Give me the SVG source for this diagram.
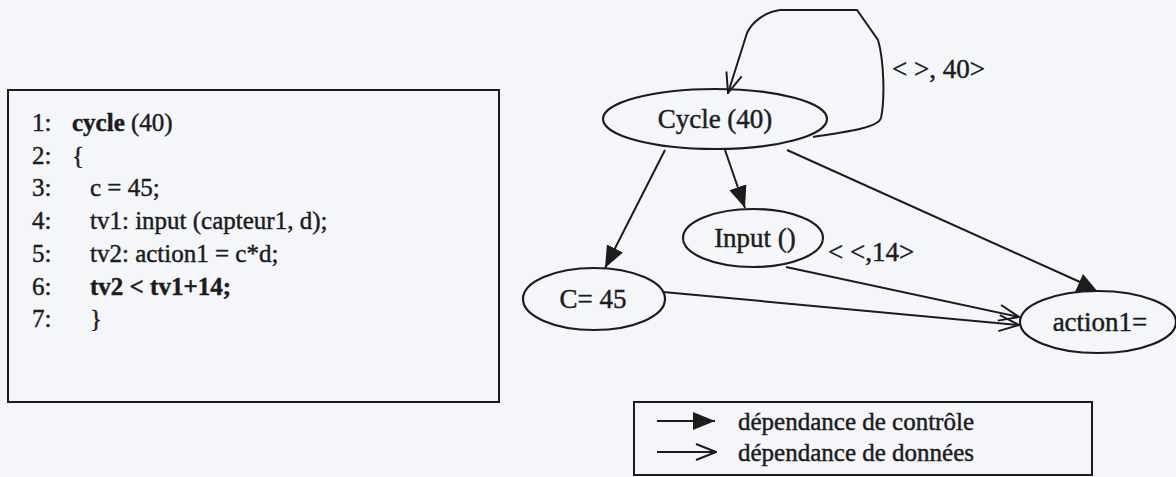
<svg xmlns="http://www.w3.org/2000/svg" width="1176" height="477" viewBox="0 0 1176 477">
  <style>
    .ink { stroke: #1c1c1c; stroke-width: 2; fill: none; }
    .node { stroke: #1c1c1c; stroke-width: 2.2; fill: none; }
    .serif { font-family: "Liberation Serif", "Times New Roman", serif; fill: #1c1c1c; stroke: #1c1c1c; stroke-width: 0.45; }
    .code { font-size: 25px; }
    .lbl { font-size: 27px; }
    .leg { font-size: 25px; }
    .b { font-weight: bold; }
  </style>
  <defs>
    <!-- control dependency: filled head -->
    <marker id="solid" viewBox="0 0 22 18" refX="22" refY="9" markerWidth="22" markerHeight="18" orient="auto" markerUnits="userSpaceOnUse">
      <path d="M0,0 L22,9 L0,18 Z" fill="#1c1c1c"/>
    </marker>
    <!-- data dependency: open head -->
    <marker id="open" viewBox="0 0 22 18" refX="21" refY="9" markerWidth="22" markerHeight="18" orient="auto" markerUnits="userSpaceOnUse">
      <path d="M1,1 L21,9 L1,17" fill="none" stroke="#1c1c1c" stroke-width="2"/>
    </marker>
  </defs>

  <rect width="1176" height="477" fill="#f5f6fa"/>

  <!-- source listing -->
  <g id="code">
    <rect x="8" y="90" width="491" height="312" class="ink"/>
    <g class="serif code">
      <text x="32" y="131">1:</text>
      <text x="72" y="131"><tspan class="b">cycle</tspan> (40)</text>
      <text x="32" y="164">2:</text>
      <text x="72" y="164">{</text>
      <text x="32" y="196">3:</text>
      <text x="90" y="196">c = 45;</text>
      <text x="32" y="229">4:</text>
      <text x="90" y="229">tv1: input (capteur1, d);</text>
      <text x="32" y="262">5:</text>
      <text x="90" y="262">tv2: action1 = c*d;</text>
      <text x="32" y="295">6:</text>
      <text x="90" y="295" class="b">tv2 &lt; tv1+14;</text>
      <text x="32" y="327">7:</text>
      <text x="90" y="327">}</text>
    </g>
  </g>

  <!-- nodes -->
  <g id="n-cycle">
    <ellipse cx="715" cy="119" rx="112" ry="30" class="node"/>
    <text x="715" y="128" text-anchor="middle" class="serif lbl">Cycle (40)</text>
  </g>
  <g id="n-input">
    <ellipse cx="753" cy="238" rx="70" ry="29" class="node"/>
    <text x="755" y="247" text-anchor="middle" class="serif lbl">Input ()</text>
  </g>
  <g id="n-c45">
    <ellipse cx="594" cy="299" rx="71" ry="31" class="node"/>
    <text x="593" y="308" text-anchor="middle" class="serif lbl">C= 45</text>
  </g>
  <g id="n-action1">
    <ellipse cx="1098" cy="322" rx="78" ry="31" class="node"/>
    <text x="1100" y="331" text-anchor="middle" class="serif lbl">action1=</text>
  </g>

  <!-- connectors -->
  <g id="edges">
    <path d="M813,137 C845,132 878,128 881,118 C885,100 884,60 878,40 L857,10 L780,10 C765,12 752,22 747,33 L728,93" class="ink" marker-end="url(#open)"/>
    <path d="M725,150 L745,208" class="ink" marker-end="url(#solid)"/>
    <path d="M665,150 L605,268" class="ink" marker-end="url(#solid)"/>
    <path d="M787,150 L1080,282" class="ink"/>
    <polygon points="1083,274 1075,292 1098,292" fill="#1c1c1c"/>
    <path d="M786,267 L1019,317" class="ink" marker-end="url(#open)"/>
    <path d="M663,292 L1019,325" class="ink" marker-end="url(#open)"/>
    <text x="892" y="78" class="serif lbl">&lt; &gt;, 40&gt;</text>
    <text x="828" y="261" class="serif lbl">&lt; &lt;,14&gt;</text>
  </g>

  <!-- legend -->
  <g id="legend">
    <rect x="634" y="402" width="458" height="73" class="ink"/>
    <path d="M657,421 L715,421" class="ink" marker-end="url(#solid)"/>
    <path d="M657,452 L716,452" class="ink" marker-end="url(#open)"/>
    <text x="738" y="430" class="serif leg">dépendance de contrôle</text>
    <text x="738" y="461" class="serif leg">dépendance de données</text>
  </g>
</svg>
